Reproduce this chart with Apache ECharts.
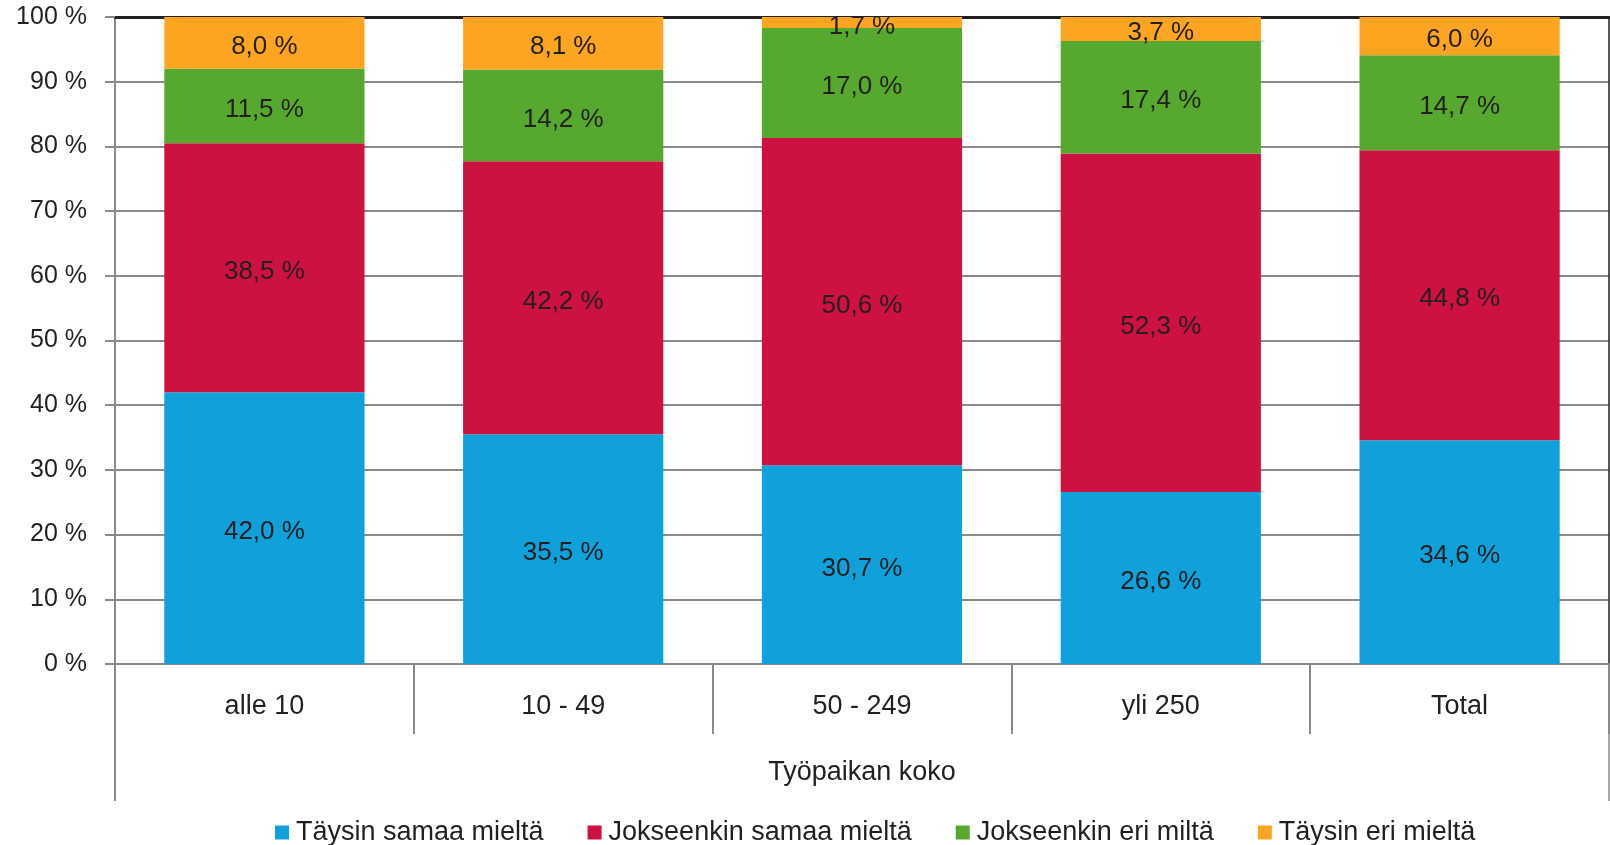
<!DOCTYPE html>
<html>
<head>
<meta charset="utf-8">
<script src="https://cdn.jsdelivr.net/npm/echarts@6/dist/echarts.min.js"></script>
<style>
  html, body { margin: 0; padding: 0; background: #fff; }
  #chart { width: 1610px; height: 845px; }
</style>
</head>
<body>
<div id="chart"></div>
<script>
// kategoriat ja sarjat
var categories = ["alle 10", "10 - 49", "50 - 249", "yli 250", "Total"];
var seriesNames = ["Täysin samaa mieltä", "Jokseenkin samaa mieltä", "Jokseenkin eri miltä", "Täysin eri mieltä"];
var taysinSamaa = [42.0, 35.5, 30.7, 26.6, 34.6];
var jokseenkinSamaa = [38.5, 42.2, 50.6, 52.3, 44.8];
var jokseenkinEri = [11.5, 14.2, 17.0, 17.4, 14.7];
var taysinEri = [8.0, 8.1, 1.7, 3.7, 6.0];
var colors = ["#10a0da", "#cd1141", "#56a92e", "#fda521"];

var textColor = "#231f20";
var gridGray = "#8a8a8a";
var font = "Liberation Sans";

var myChart = echarts.init(document.getElementById("chart"));

function fmt(v) {
  return v.toFixed(1).replace(".", ",") + " %";
}

var allData = [taysinSamaa, jokseenkinSamaa, jokseenkinEri, taysinEri];
var series = allData.map(function (d, i) {
  return {
    name: seriesNames[i],
    type: "bar",
    stack: "total",
    barCategoryGap: "33%",
    itemStyle: { color: colors[i] },
    label: {
      show: true,
      position: "inside",
      offset: [0, 4],
      color: textColor,
      fontFamily: font,
      fontSize: 26,
      formatter: function (p) { return fmt(p.value); }
    },
    data: d
  };
});

var option = {
  animation: false,
  textStyle: { fontFamily: font, color: textColor },
  grid: { left: 115, right: 1, top: 17, bottom: 181, containLabel: false },
  legend: {
    top: 814,
    left: 270,
    itemWidth: 14,
    itemHeight: 14,
    itemGap: 44,
    icon: "rect",
    textStyle: { fontSize: 27, color: textColor, fontFamily: font, padding: [0, 0, 0, 2] },
    data: seriesNames
  },
  xAxis: [
    {
      type: "category",
      data: categories,
      name: "Työpaikan koko",
      nameLocation: "middle",
      nameGap: 95,
      nameTextStyle: { fontSize: 27, color: textColor, fontFamily: font },
      axisLine: { lineStyle: { color: gridGray, width: 2 } },
      axisTick: { show: true, length: 70, lineStyle: { color: gridGray, width: 2 } },
      axisLabel: { fontSize: 27, color: textColor, fontFamily: font, margin: 29 }
    },
    {
      type: "category",
      data: categories,
      position: "top",
      axisLine: { onZero: false, lineStyle: { color: "#231f20", width: 3 } },
      axisTick: { show: false },
      axisLabel: { show: false }
    }
  ],
  yAxis: [
    {
      type: "value",
      min: 0,
      max: 100,
      interval: 10,
      axisLine: { show: true, lineStyle: { color: gridGray, width: 2 } },
      axisTick: { show: true, length: 10, lineStyle: { color: gridGray, width: 2 } },
      axisLabel: {
        fontSize: 25,
        color: textColor,
        fontFamily: font,
        margin: 28,
        formatter: function (v) { return v + " %"; }
      },
      splitLine: { show: true, lineStyle: { color: gridGray, width: 2 } }
    },
    {
      type: "value",
      min: 0,
      max: 100,
      interval: 10,
      position: "right",
      axisLine: { show: true, onZero: false, lineStyle: { color: "#231f20", width: 1.5 } },
      axisTick: { show: false },
      axisLabel: { show: false },
      splitLine: { show: false }
    }
  ],
  graphic: [
    // vasemman ja oikean reunan jatkeet luokka-akselin alle
    { type: "line", shape: { x1: 115, y1: 664, x2: 115, y2: 801 }, style: { stroke: gridGray, lineWidth: 2 } },
    { type: "line", shape: { x1: 1609, y1: 664, x2: 1609, y2: 801 }, style: { stroke: gridGray, lineWidth: 1.5 } }
  ],
  series: series
};

myChart.setOption(option);
</script>
</body>
</html>
